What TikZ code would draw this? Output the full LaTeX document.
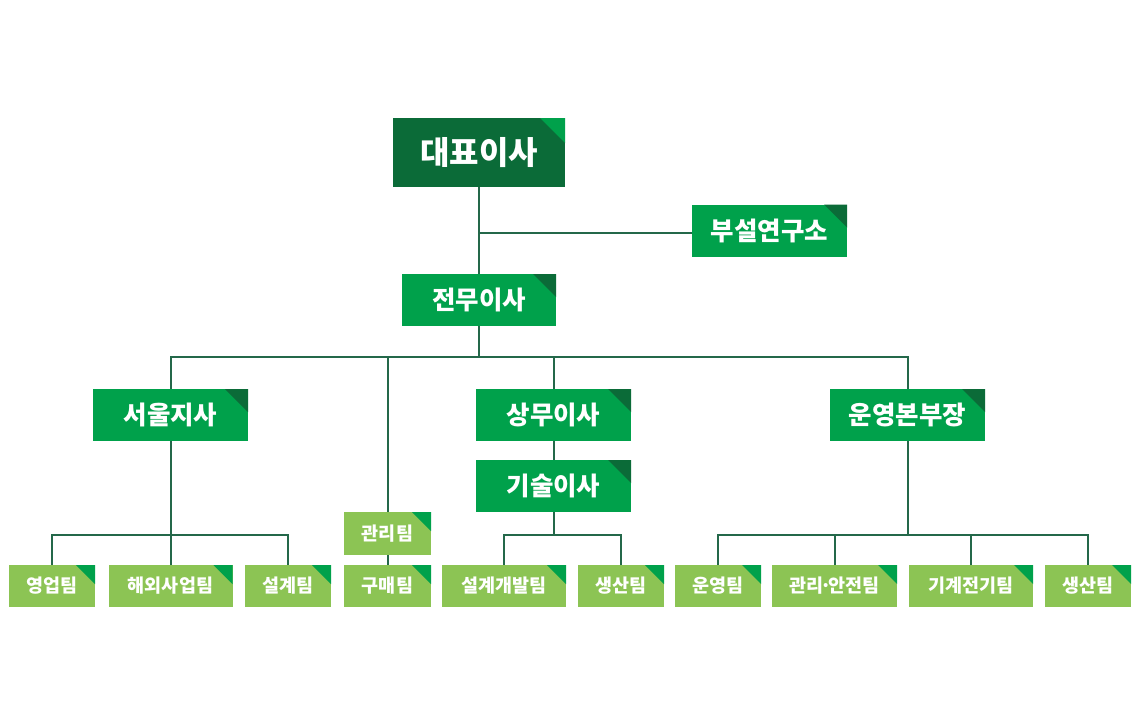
\documentclass[tikz,border=0pt]{standalone}
\usepackage{fontspec}
\setmainfont{Noto Sans CJK KR}
\definecolor{dkg}{HTML}{0B6B38}
\definecolor{mdg}{HTML}{00A14B}
\definecolor{ltg}{HTML}{8CC454}
\definecolor{lng}{HTML}{24684A}
\newcommand{\mdot}{\kern-0.17em·\kern-0.17em}
\tikzset{
  box/.style={inner sep=0pt, text=white, font=\bfseries},
  bigbox/.style={box, fill=dkg, minimum width=172pt, minimum height=69pt, font=\bfseries\fontsize{32}{34}\selectfont,
    path picture={\fill[mdg] (path picture bounding box.north east) -- ++(-25pt,0pt) -- ++(25pt,-25pt) -- cycle;}},
  midbox/.style={box, fill=mdg, minimum width=155pt, minimum height=52pt, font=\bfseries\fontsize{25.5}{27}\selectfont,
    path picture={\fill[dkg] (path picture bounding box.north east) -- ++(-23pt,0pt) -- ++(23pt,-23pt) -- cycle;}},
  smbox/.style={box, fill=ltg, minimum height=42pt, font=\bfseries\fontsize{18.5}{20}\selectfont,
    path picture={\fill[mdg] (path picture bounding box.north east) -- ++(-19pt,0pt) -- ++(19pt,-19pt) -- cycle;}},
  conn/.style={draw=lng, line width=2pt},
}
\begin{document}
\begin{tikzpicture}[x=1pt,y=-1pt]
\fill[white] (0,0) rectangle (1140,726);
\useasboundingbox (0,0) rectangle (1140,726);
% nodes
\node[bigbox] (ceo) at (479,152.5) {대표이사};
\node[midbox] (lab) at (769.5,230.5) {부설연구소};
\node[midbox, minimum width=154pt] (jm) at (479,300) {전무이사};
\node[midbox] (seoul) at (170.5,415) {서울지사};
\node[midbox] (sangmu) at (553.5,415) {상무이사};
\node[midbox] (ki) at (553.5,486) {기술이사};
\node[midbox] (op) at (907.5,415) {운영본부장};
\node[smbox, minimum width=87pt, minimum height=43pt] (gwanri) at (387.5,533.5) {관리팀};
\node[smbox, minimum width=87pt] (gumae) at (387.5,586) {구매팀};
\node[smbox, minimum width=86pt] (t1) at (52,586) {영업팀};
\node[smbox, minimum width=124pt] (t2) at (170.5,586) {해외사업팀};
\node[smbox, minimum width=86pt] (t3) at (288,586) {설계팀};
\node[smbox, minimum width=124pt] (d1) at (504,586) {설계개발팀};
\node[smbox, minimum width=86pt] (d2) at (621,586) {생산팀};
\node[smbox, minimum width=86pt] (o1) at (718,586) {운영팀};
\node[smbox, minimum width=125pt] (o2) at (834.5,586) {관리\mdot 안전팀};
\node[smbox, minimum width=124pt] (o3) at (971,586) {기계전기팀};
\node[smbox, minimum width=86pt] (o4) at (1088,586) {생산팀};
% connectors
\draw[conn] (ceo.south) -- (jm.north);
\draw[conn] (ceo.south |- 0,233) -- (lab.west |- 0,233);
\draw[conn] (jm.south) -- ++(0,31) coordinate (b0);
\draw[conn] (seoul.north) |- (b0) -| (op.north);
\draw[conn] (sangmu.north) -- (sangmu.north |- b0);
\draw[conn] (gwanri.north) -- (gwanri.north |- b0);
\draw[conn] (sangmu.south) -- (ki.north);
\draw[conn] (gwanri.south) -- (gumae.north);
\draw[conn] (seoul.south) -- (t2.north);
\draw[conn] (t1.north) -- ++(0,-30) -| (t3.north);
\draw[conn] (ki.south) -- ++(0,23) coordinate (k0);
\draw[conn] (d1.north) |- (k0) -| (d2.north);
\draw[conn] (op.south) -- ++(0,94) coordinate (p0);
\draw[conn] (o1.north) |- (p0) -| (o4.north);
\draw[conn] (o2.north) -- (o2.north |- p0);
\draw[conn] (o3.north) -- (o3.north |- p0);
\end{tikzpicture}
\end{document}
